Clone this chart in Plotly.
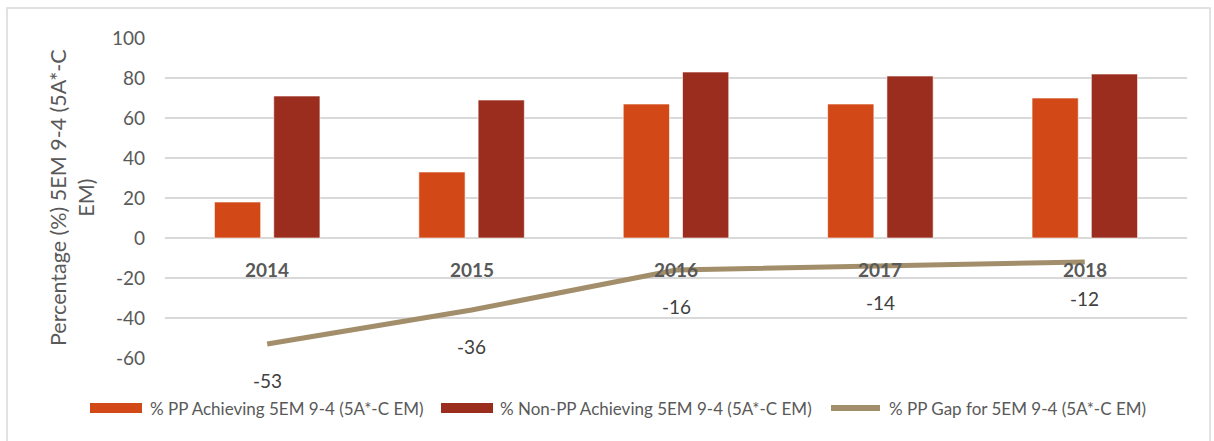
import plotly.graph_objects as go

years = ["2014", "2015", "2016", "2017", "2018"]
pp_achieving = [18, 33, 67, 67, 70]
nonpp_achieving = [71, 69, 83, 81, 82]
pp_gap = [-53, -36, -16, -14, -12]
y_ticks = [-60, -40, -20, 0, 20, 40, 60, 80, 100]
y_ticktext = ["-60", "-40", "-20", "0", "20", "40", "60", "80", "100"]

names = ["% PP Achieving 5EM 9-4 (5A*-C EM)",
         "% Non-PP Achieving 5EM 9-4 (5A*-C EM)",
         "% PP Gap for 5EM 9-4 (5A*-C EM)"]
y_title = "Percentage (%) 5EM 9-4 (5A*-C<br>EM)"

FONT = "Lato, Liberation Sans, sans-serif"
GRAY = "#595959"
C_PP, C_NPP, C_GAP = "#D34817", "#9B2D1F", "#A28E6A"

# plot area in pixels
L, R, T, B = 165, 1187, 38, 358
W, H = R - L, B - T


def px(x):
    return (x - L) / W


def py(y):
    return (B - y) / H


fig = go.Figure()
fig.add_trace(go.Bar(x=years, y=pp_achieving, name=names[0],
                     marker=dict(color=C_PP, line=dict(color="rgba(255,255,255,0.6)", width=1))))
fig.add_trace(go.Bar(x=years, y=nonpp_achieving, name=names[1],
                     marker=dict(color=C_NPP, line=dict(color="rgba(255,255,255,0.6)", width=1))))
fig.add_trace(go.Scatter(x=years, y=pp_gap, name=names[2], mode="lines",
                         line=dict(color=C_GAP, width=5)))

annotations = []
for i, yr in enumerate(years):
    annotations.append(dict(x=i, y=0, xref="x", yref="y", text="<b>%s</b>" % yr, showarrow=False,
                            yshift=-31, font=dict(family=FONT, size=19, color=GRAY)))
for i, v in enumerate(pp_gap):
    annotations.append(dict(x=i, y=v, xref="x", yref="y", text=str(v), showarrow=False,
                            yshift=-36, font=dict(family=FONT, size=19, color="#404040")))
annotations.append(dict(x=px(72), y=0.5, xref="paper", yref="paper", xanchor="center", yanchor="middle",
                        text=y_title, showarrow=False, textangle=-90,
                        font=dict(family=FONT, size=21.5, color=GRAY)))

# manual legend
shapes = [dict(type="rect", xref="paper", yref="paper",
               x0=px(7), x1=px(1210), y0=-0.4, y1=py(8),
               line=dict(color="#D9D9D9", width=1.5), fillcolor="rgba(0,0,0,0)", layer="below")]
legend_items = [(names[0], C_PP, "rect", 90, 142, 148),
                (names[1], C_NPP, "rect", 441, 493, 498),
                (names[2], C_GAP, "line", 828, 883, 887)]
for name, col, kind, x0, x1, tx in legend_items:
    if kind == "rect":
        shapes.append(dict(type="rect", xref="paper", yref="paper", x0=px(x0), x1=px(x1),
                           y0=py(413), y1=py(403), fillcolor=col, line=dict(width=0)))
    else:
        shapes.append(dict(type="line", xref="paper", yref="paper", x0=px(x0 + 3), x1=px(x1 - 3),
                           y0=py(408), y1=py(408), line=dict(color=col, width=6)))
    annotations.append(dict(x=px(tx), y=py(408), xref="paper", yref="paper", text=name,
                            showarrow=False, xanchor="left", yanchor="middle",
                            font=dict(family=FONT, size=17, color=GRAY)))

fig.update_layout(
    width=1214, height=441,
    margin=dict(l=L, r=1214 - R, t=T, b=441 - B),
    paper_bgcolor="white", plot_bgcolor="white",
    barmode="group", bargap=0.42, bargroupgap=0.22,
    font=dict(family=FONT, color=GRAY),
    showlegend=False,
    annotations=annotations,
    shapes=shapes,
)
fig.update_yaxes(range=[-60, 100], tickvals=y_ticks, ticktext=y_ticktext,
                 showgrid=True, gridcolor="#D9D9D9", gridwidth=1.5,
                 zeroline=True, zerolinecolor="#D9D9D9", zerolinewidth=1.5,
                 showline=False, ticks="", ticklabelstandoff=19, automargin=False,
                 tickfont=dict(family=FONT, size=19, color=GRAY))
fig.update_xaxes(type="category", range=[-0.5, 4.5], showline=False, ticks="",
                 showgrid=False, showticklabels=False, automargin=False)

fig.write_html("out.html", config={"displayModeBar": False},
               post_script="document.body.style.margin='0';document.body.style.overflow='hidden';")
